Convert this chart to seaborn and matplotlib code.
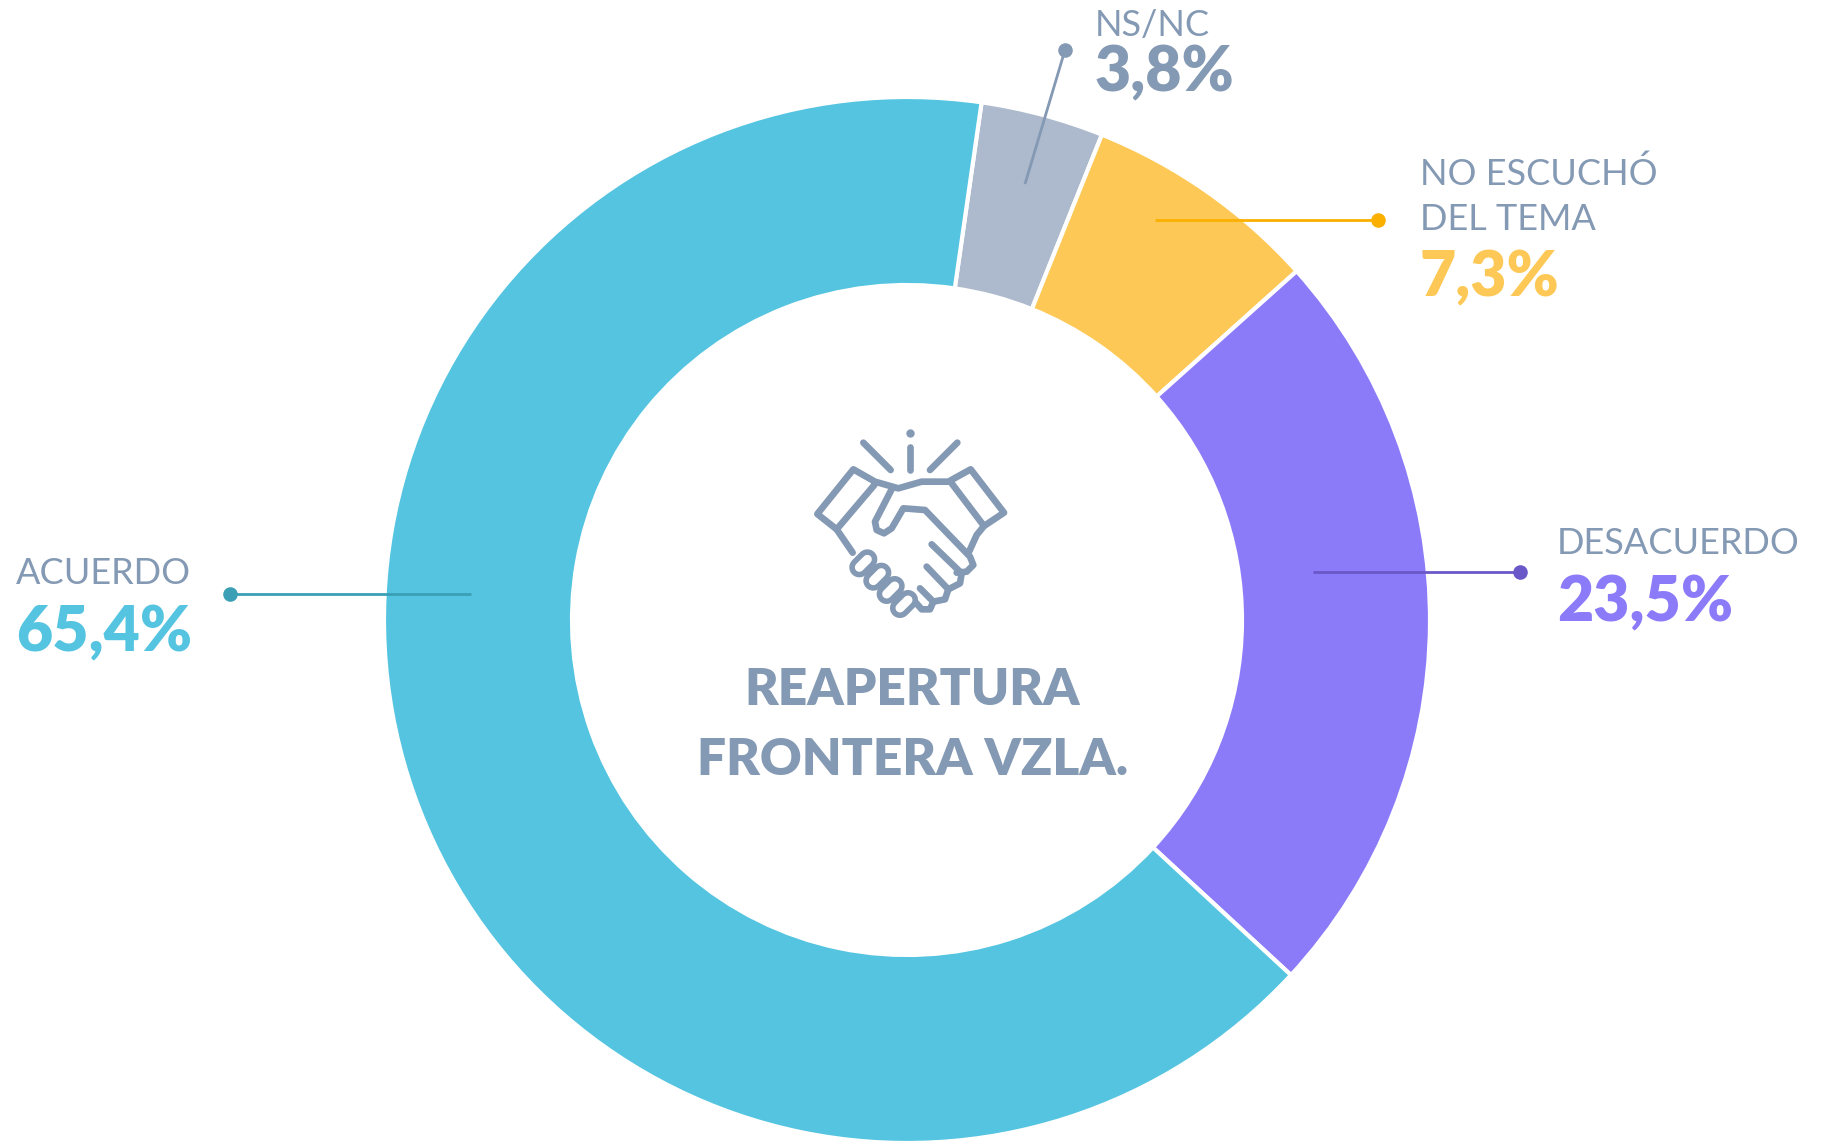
import matplotlib
matplotlib.use('Agg')
import matplotlib.pyplot as plt
import seaborn as sns

# datos
etiquetas = ['NS/NC', 'NO ESCUCHÓ\nDEL TEMA', 'DESACUERDO', 'ACUERDO']
valores = [3.8, 7.3, 23.5, 65.4]
colores = ['#adb9cc', '#fdc855', '#8c7bf9', '#54c4e0']
colores_texto = ['#8499b3', '#fdc855', '#8c7bf9', '#54c4e0']
colores_linea = ['#8499b3', '#fbb000', '#6a58c8', '#3b9fb5']
titulo = ['REAPERTURA', 'FRONTERA VZLA.']

sns.set_theme(style='white')
plt.rcParams['font.family'] = ['Lato', 'DejaVu Sans']

W, H = 1825, 1141
GRIS = '#8499b3'

fig = plt.figure(figsize=(W / 100, H / 100), dpi=100)
ax = fig.add_axes([0, 0, 1, 1])


def Y(y):
    return H - y


# dona
ax.pie(valores, colors=colores, startangle=90 - 8.2, counterclock=False,
       center=(907, Y(620)), radius=523,
       wedgeprops=dict(width=188, edgecolor='white', linewidth=3))
ax.set_xlim(0, W)
ax.set_ylim(0, H)
ax.set_aspect('equal')
ax.axis('off')

# lineas guia: (inicio en el anillo, punto final)
guias = [((1025, 184), (1065, 50)),
         ((1155, 220), (1378, 220)),
         ((1313, 572), (1520, 572)),
         ((471, 594), (230, 594))]
for (a, b), c in zip(guias, colores_linea):
    ax.plot([a[0], b[0]], [Y(a[1]), Y(b[1])], color=c, lw=2, zorder=5, solid_capstyle='butt')
    ax.plot(b[0], Y(b[1]), 'o', color=c, ms=10.5, mew=0, zorder=6)

# textos: x, base de cada linea de nombre, base del porcentaje
pos_texto = [(1095, [36], 91),
             (1420, [185, 230], 296),
             (1557, [554], 621),
             (16, [584], 651)]
for i, (x, bases, base_pct) in enumerate(pos_texto):
    for linea, b in zip(etiquetas[i].split('\n'), bases):
        ax.text(x, Y(b), linea, color=GRIS, fontsize=26, fontweight='normal',
                ha='left', va='baseline', zorder=7)
    pct = f'{valores[i]:.1f}'.replace('.', ',') + '%'
    ax.text(x, Y(base_pct), pct, color=colores_texto[i], fontsize=45, fontweight='heavy',
            ha='left', va='baseline', zorder=7)

# titulo central
ax.text(912, Y(705), titulo[0], color=GRIS, fontsize=37, fontweight='heavy', ha='center', va='baseline')
ax.text(913, Y(775), titulo[1], color=GRIS, fontsize=37, fontweight='heavy', ha='center', va='baseline')


# icono apreton de manos (coordenadas del recorte)
def P(x, y):
    return 780 + x / 3, Y(400 + y / 3)


trazos = [
    [(250, 128), (332, 210)],
    [(391, 142), (391, 210)],
    [(532, 128), (450, 210)],
    [(283, 255), (170, 388), (112, 342), (220, 208), (285, 245), (355, 265), (425, 245),
     (505, 245), (572, 208), (672, 338), (612, 378), (515, 250)],
    [(170, 388), (218, 458)],
    [(612, 378), (590, 405), (565, 460)],
    [(335, 268), (285, 365), (290, 390), (312, 400), (335, 385), (370, 325), (435, 330),
     (570, 470), (580, 495), (560, 515), (530, 518)],
    [(455, 433), (545, 520), (540, 550), (505, 568), (440, 500)],
    [(505, 568), (495, 598), (460, 605), (420, 565)],
    [(460, 605), (450, 628), (425, 628), (405, 605)],
]
for t in trazos:
    xs, ys = zip(*[P(*p) for p in t])
    ax.plot(xs, ys, color=GRIS, lw=4.8, solid_capstyle='round', solid_joinstyle='round', zorder=8)
ax.plot(*P(391, 99), 'o', color=GRIS, ms=6, mew=0, zorder=8)

# nudillos
nudillos = [(250, 490), (292, 530), (332, 570), (372, 612)]
for c in nudillos:
    xs, ys = zip(P(c[0] - 12, c[1] + 12), P(c[0] + 12, c[1] - 12))
    ax.plot(xs, ys, color=GRIS, lw=14.5, solid_capstyle='round', zorder=8)
for c in nudillos:
    xs, ys = zip(P(c[0] - 12, c[1] + 12), P(c[0] + 12, c[1] - 12))
    ax.plot(xs, ys, color='white', lw=6.5, solid_capstyle='round', zorder=9)

fig.savefig('out.png', dpi=100, facecolor='white')
